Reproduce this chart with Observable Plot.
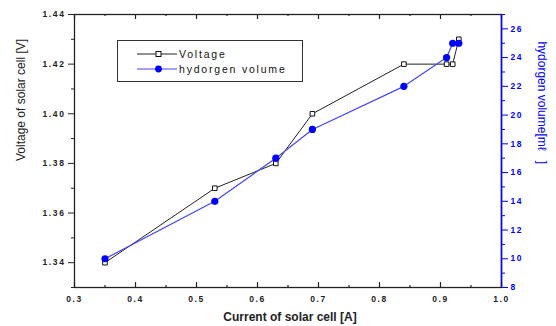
<!DOCTYPE html>
<html>
<head>
<meta charset="utf-8">
<script src="https://cdn.jsdelivr.net/npm/d3@7"></script>
<script src="https://cdn.jsdelivr.net/npm/@observablehq/plot@0.6"></script>
<style>
  html, body { margin: 0; padding: 0; background: #fff; }
  #chart { position: relative; width: 556px; height: 326px; font-family: "Liberation Sans", Arial, sans-serif; }
  #chart svg.layer { position: absolute; left: 0; top: 0; background: transparent; }
  #chart [aria-label$="tick label"] text { letter-spacing: 1.6px; font-weight: bold; }
  #legend { position: absolute; left: 117px; top: 40px; width: 186px; height: 42px; box-sizing: border-box; border: 1.5px solid #333; background: #fff; }
  #legend text { font-family: "Liberation Sans", Arial, sans-serif; font-size: 10.5px; letter-spacing: 1.8px; fill: #111; }
</style>
</head>
<body>
<div id="chart"></div>
<script>
// ---- data ----
const current = [0.35, 0.53, 0.63, 0.69, 0.84, 0.91, 0.92, 0.93];
const voltage = [1.34, 1.37, 1.38, 1.40, 1.42, 1.42, 1.42, 1.43];
const hydrogen = [10, 14, 17, 19, 22, 24, 25, 25];
const xTicks = [0.3, 0.4, 0.5, 0.6, 0.7, 0.8, 0.9, 1.0];
const xMinor = [0.35, 0.45, 0.55, 0.65, 0.75, 0.85, 0.95];
const yTicks = [1.34, 1.36, 1.38, 1.40, 1.42, 1.44];
const yMinor = [1.33, 1.35, 1.37, 1.39, 1.41, 1.43];
const y2Ticks = [8, 10, 12, 14, 16, 18, 20, 22, 24, 26];
const y2Minor = [9, 11, 13, 15, 17, 19, 21, 23, 25, 27];
const labels = {
  x: "Current of solar cell [A]",
  y: "Voltage of solar cell [V]",
  y2: "hydorgen volume[m\u2113   ]",
  s1: "Voltage",
  s2: "hydorgen volume"
};

const rows = current.map((c, i) => ({current: c, voltage: voltage[i], hydrogen: hydrogen[i]}));

const W = 556, H = 326, mL = 74, mR = 55, mT = 14, mB = 39;
const plotH = H - mT - mB;
const common = {
  width: W, height: H, marginLeft: mL, marginRight: mR, marginTop: mT, marginBottom: mB,
  style: {fontFamily: "'Liberation Sans', Arial, sans-serif", fontSize: "8.5px", background: "transparent", overflow: "visible"}
};

const p1 = Plot.plot({
  ...common,
  x: {domain: [0.3, 1.0]},
  y: {domain: [1.33, 1.44]},
  marks: [
    Plot.axisY(yTicks, {anchor: "left", tickSize: 6, tickPadding: 3, tickFormat: d3.format(".2f"), label: null, color: "#222"}),
    Plot.axisY(yMinor, {anchor: "left", tickSize: 3, text: null, label: null, color: "#222"}),
    Plot.axisX(xTicks, {anchor: "bottom", tickSize: 0, tickPadding: 8, tickFormat: d3.format(".1f"), label: null, color: "#222"}),
    Plot.ruleX(xTicks, {x: d => d, insetTop: plotH - 5, stroke: "#222", strokeWidth: 1.2}),
    Plot.ruleX(xTicks, {x: d => d, insetBottom: plotH - 5, stroke: "#222", strokeWidth: 1.2}),
    Plot.ruleX(xMinor, {x: d => d, insetTop: plotH - 2, stroke: "#222", strokeWidth: 1.2}),
    Plot.ruleX(xMinor, {x: d => d, insetBottom: plotH - 2, stroke: "#222", strokeWidth: 1.2}),
    Plot.frame({stroke: "#222", strokeWidth: 1.3}),
    Plot.line(rows, {x: "current", y: "voltage", stroke: "#222", strokeWidth: 1}),
    Plot.dot(rows, {x: "current", y: "voltage", symbol: "square", r: 2.6, fill: "white", stroke: "#111", strokeWidth: 1}),
    Plot.text([labels.y], {text: d => d, frameAnchor: "left", rotate: -90, dx: -53, dy: 10, fontSize: 12, fill: "#222"}),
    Plot.text([labels.x], {text: d => d, frameAnchor: "bottom", dx: 2, dy: 33, fontSize: 12, fill: "#222", fontWeight: "bold"})
  ]
});
p1.classList.add("layer");

const p2 = Plot.plot({
  ...common,
  x: {domain: [0.3, 1.0], axis: null},
  y: {domain: [8, 27]},
  marks: [
    Plot.axisY(y2Ticks, {anchor: "right", tickSize: 6, tickPadding: 3, label: null, color: "blue"}),
    Plot.axisY(y2Minor, {anchor: "right", tickSize: 3, text: null, label: null, color: "blue"}),
    Plot.ruleX([1.0], {x: d => d, stroke: "blue", strokeWidth: 1.5}),
    Plot.line(rows, {x: "current", y: "hydrogen", stroke: "#4545ff", strokeWidth: 1.2}),
    Plot.dot(rows, {x: "current", y: "hydrogen", r: 3.6, fill: "#0000ff", stroke: "none"}),
    Plot.text([labels.y2], {text: d => d, frameAnchor: "right", rotate: 90, dx: 40, dy: 13, fontSize: 12, fill: "blue"})
  ]
});
p2.classList.add("layer");

const chart = document.getElementById("chart");
chart.appendChild(p1);
chart.appendChild(p2);

// legend
const lg = document.createElement("div");
lg.id = "legend";
lg.innerHTML = `<svg width="186" height="42">
  <line x1="19" x2="59" y1="13" y2="13" stroke="#222" stroke-width="1"/>
  <rect x="38" y="10.5" width="5" height="5" fill="white" stroke="#111" stroke-width="1"/>
  <text x="61" y="17">${labels.s1}</text>
  <line x1="19" x2="59" y1="28" y2="28" stroke="#4545ff" stroke-width="1.2"/>
  <circle cx="40.5" cy="28" r="3.4" fill="#0000ff"/>
  <text x="61" y="32">${labels.s2}</text>
</svg>`;
chart.appendChild(lg);
</script>
</body>
</html>
